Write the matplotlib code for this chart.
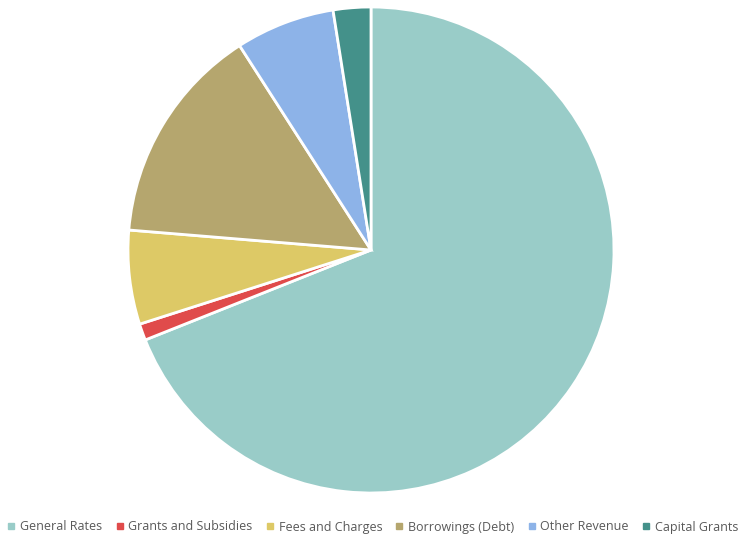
import matplotlib.pyplot as plt
from matplotlib.lines import Line2D

labels = ["General Rates", "Grants and Subsidies", "Fees and Charges",
          "Borrowings (Debt)", "Other Revenue", "Capital Grants"]
shares = [69.0, 1.1, 6.25, 14.6, 6.6, 2.5]
colors = ["#99CCC8", "#E04B4B", "#DDC966", "#B5A66E", "#8DB3E8", "#44918A"]

fig = plt.figure(figsize=(7.4, 5.36), dpi=100)
ax = fig.add_axes([128 / 740, 43 / 536, 486 / 740, 486 / 536])
ax.pie(shares, colors=colors, startangle=90, counterclock=False, radius=1,
       wedgeprops=dict(edgecolor="white", linewidth=2))
ax.set_xlim(-1, 1)
ax.set_ylim(-1, 1)
ax.set_aspect("equal")
ax.axis("off")

handles = [Line2D([], [], marker="s", linestyle="", markersize=5,
                  markerfacecolor=c, markeredgecolor=c) for c in colors]
fig.legend(handles, labels, loc="center", bbox_to_anchor=(0.504, 9 / 536),
           ncol=6, frameon=False, handlelength=0.6, handletextpad=0.4,
           columnspacing=1.08, prop={"family": "Open Sans", "size": 9},
           labelcolor="#595959")

fig.savefig("out.png", dpi=100)
